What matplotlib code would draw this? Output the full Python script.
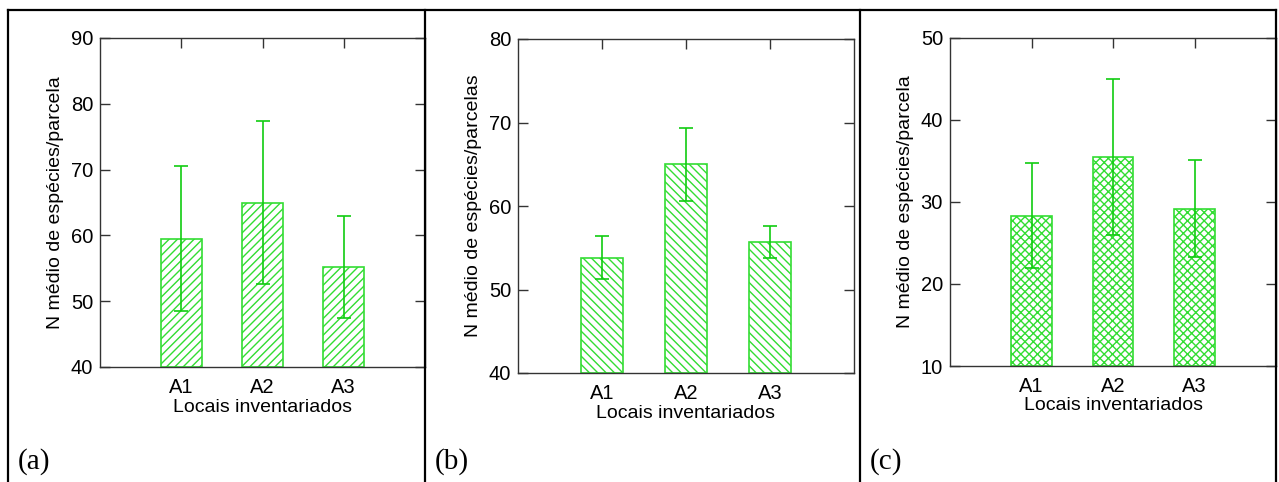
import numpy as np
import matplotlib.pyplot as plt
from matplotlib.lines import Line2D

# Mean species per plot at each surveyed site, with error bars
sites = ['A1', 'A2', 'A3']

means_a = [59.5, 65.0, 55.2]
err_a = [11.0, 12.4, 7.7]

means_b = [53.8, 65.0, 55.7]
err_b = [2.55, 4.4, 1.9]

means_c = [28.3, 35.5, 29.2]
err_c = [6.4, 9.5, 5.9]

green = '#33dd33'
err_green = '#11cc11'

plt.rcParams['font.family'] = 'Liberation Sans'
plt.rcParams['hatch.linewidth'] = 1.0
plt.rcParams['hatch.color'] = green

fig = plt.figure(figsize=(12.79, 4.82), dpi=100)

W, H = 1279.0, 482.0


def px_axes(left, top, right, bottom):
    return fig.add_axes([left / W, 1 - bottom / H, (right - left) / W, (bottom - top) / H])


def draw_panel(ax, means, errs, hatch, ylim, ystep, ylabel):
    x = np.arange(1, len(means) + 1)
    ax.bar(x, np.array(means) - ylim[0], bottom=ylim[0], width=0.5,
           color='white', edgecolor=green, hatch=hatch, linewidth=1.2, zorder=2)
    ax.errorbar(x, means, yerr=errs, fmt='none', ecolor=err_green,
                elinewidth=1.2, capsize=5, capthick=1.2, zorder=3)
    ax.set_xlim(0, 4)
    ax.set_ylim(*ylim)
    ax.set_xticks(x)
    ax.set_xticklabels(sites)
    ax.set_yticks(np.arange(ylim[0], ylim[1] + 1, ystep))
    ax.tick_params(direction='in', length=7, width=1, color='#333333',
                   top=True, right=True, labelsize=14.5, pad=5)
    ax.tick_params(axis='x', pad=8)
    for s in ax.spines.values():
        s.set_linewidth(1.0)
        s.set_color('#333333')
    ax.set_ylabel(ylabel, fontsize=14, labelpad=5)
    ax.set_xlabel('Locais inventariados', fontsize=14, labelpad=1)


ax1 = px_axes(100, 38, 425, 367)
draw_panel(ax1, means_a, err_a, '////', (40, 90), 10, 'N médio de espécies/parcela')

ax2 = px_axes(518, 39, 854, 373)
draw_panel(ax2, means_b, err_b, '\\\\\\\\', (40, 80), 10, 'N médio de espécies/parcelas')

ax3 = px_axes(950, 38, 1276, 366)
draw_panel(ax3, means_c, err_c, 'xxxx', (10, 50), 10, 'N médio de espécies/parcela')

# panel frame lines
def fig_line(x0, y0, x1, y1):
    fig.add_artist(Line2D([x0 / W, x1 / W], [1 - y0 / H, 1 - y1 / H],
                          color='black', linewidth=1.6, transform=fig.transFigure))

fig_line(8, 10, 1276, 10)
for xv in [8, 425, 860, 1276]:
    fig_line(xv, 10, xv, 482)

for lbl, xp in [('(a)', 18), ('(b)', 435), ('(c)', 870)]:
    fig.text(xp / W, 1 - 462 / H, lbl, family='Liberation Serif', fontsize=21,
             va='center', ha='left')

fig.savefig('out.png', dpi=100)
